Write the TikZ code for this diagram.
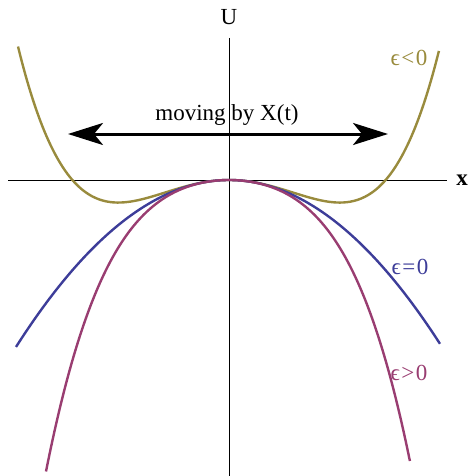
\documentclass[tikz,border=0pt]{standalone}
\usepackage{fontspec}
\setmainfont{Liberation Serif}
\usetikzlibrary{arrows.meta}
\definecolor{cblue}{rgb}{0.24,0.24,0.6}
\definecolor{cpurple}{rgb}{0.6,0.24,0.442}
\definecolor{colive}{rgb}{0.6,0.547,0.24}
\tikzset{
  curve/.style={line width=2.4pt, smooth, samples=120},
  axis/.style={line width=0.9pt},
  lbl/.style={font=\fontsize{23}{27}\selectfont, inner sep=0pt},
}
\begin{document}
\begin{tikzpicture}[x=1pt,y=-1pt]
\useasboundingbox (0,0) rectangle (470,476);
% axes
\coordinate (vtop) at (229,38);
\coordinate (vbot) at (229,476);
\coordinate (hl) at (8,180);
\coordinate (hr) at (447,180);
\draw[axis] (vtop) -- (vbot);
\draw[axis] (hl) -- (hr);
\node[lbl] (U) at (229,17) {U};
\node[lbl, font=\fontsize{23}{27}\selectfont\bfseries] (xl) at (462,180) {x};
% curves
\draw[curve, colive] plot[domain=-2.11:2.10] ({229+100*\x},{180+36.8*\x*\x-15*\x*\x*\x*\x});
\draw[curve, cblue] plot[domain=-2.13:2.11] ({229+100*\x},{180+36.8*\x*\x});
\draw[curve, cpurple] plot[domain=-1.83:1.81] ({229+100*\x},{180+36.8*\x*\x+15*\x*\x*\x*\x});
% labels
\node[lbl, text=colive] (en) at (409,58) {ϵ\kern1.5pt<\kern1.5pt0};
\node[lbl, text=cblue] (ez) at (410,267) {ϵ\kern1.5pt=\kern1.5pt0};
\node[lbl, text=cpurple] (ep) at (409,373) {ϵ\kern1.5pt>\kern1.5pt0};
% arrow
\coordinate (al) at (68,134);
\coordinate (ar) at (388,134);
\draw[line width=3pt, {Stealth[length=35pt,width=22pt,inset=9pt]}-{Stealth[length=35pt,width=22pt,inset=9pt]}] (al) -- (ar);
\node[lbl] (mv) at (227,115) {moving by X(t)};
\end{tikzpicture}
\end{document}
